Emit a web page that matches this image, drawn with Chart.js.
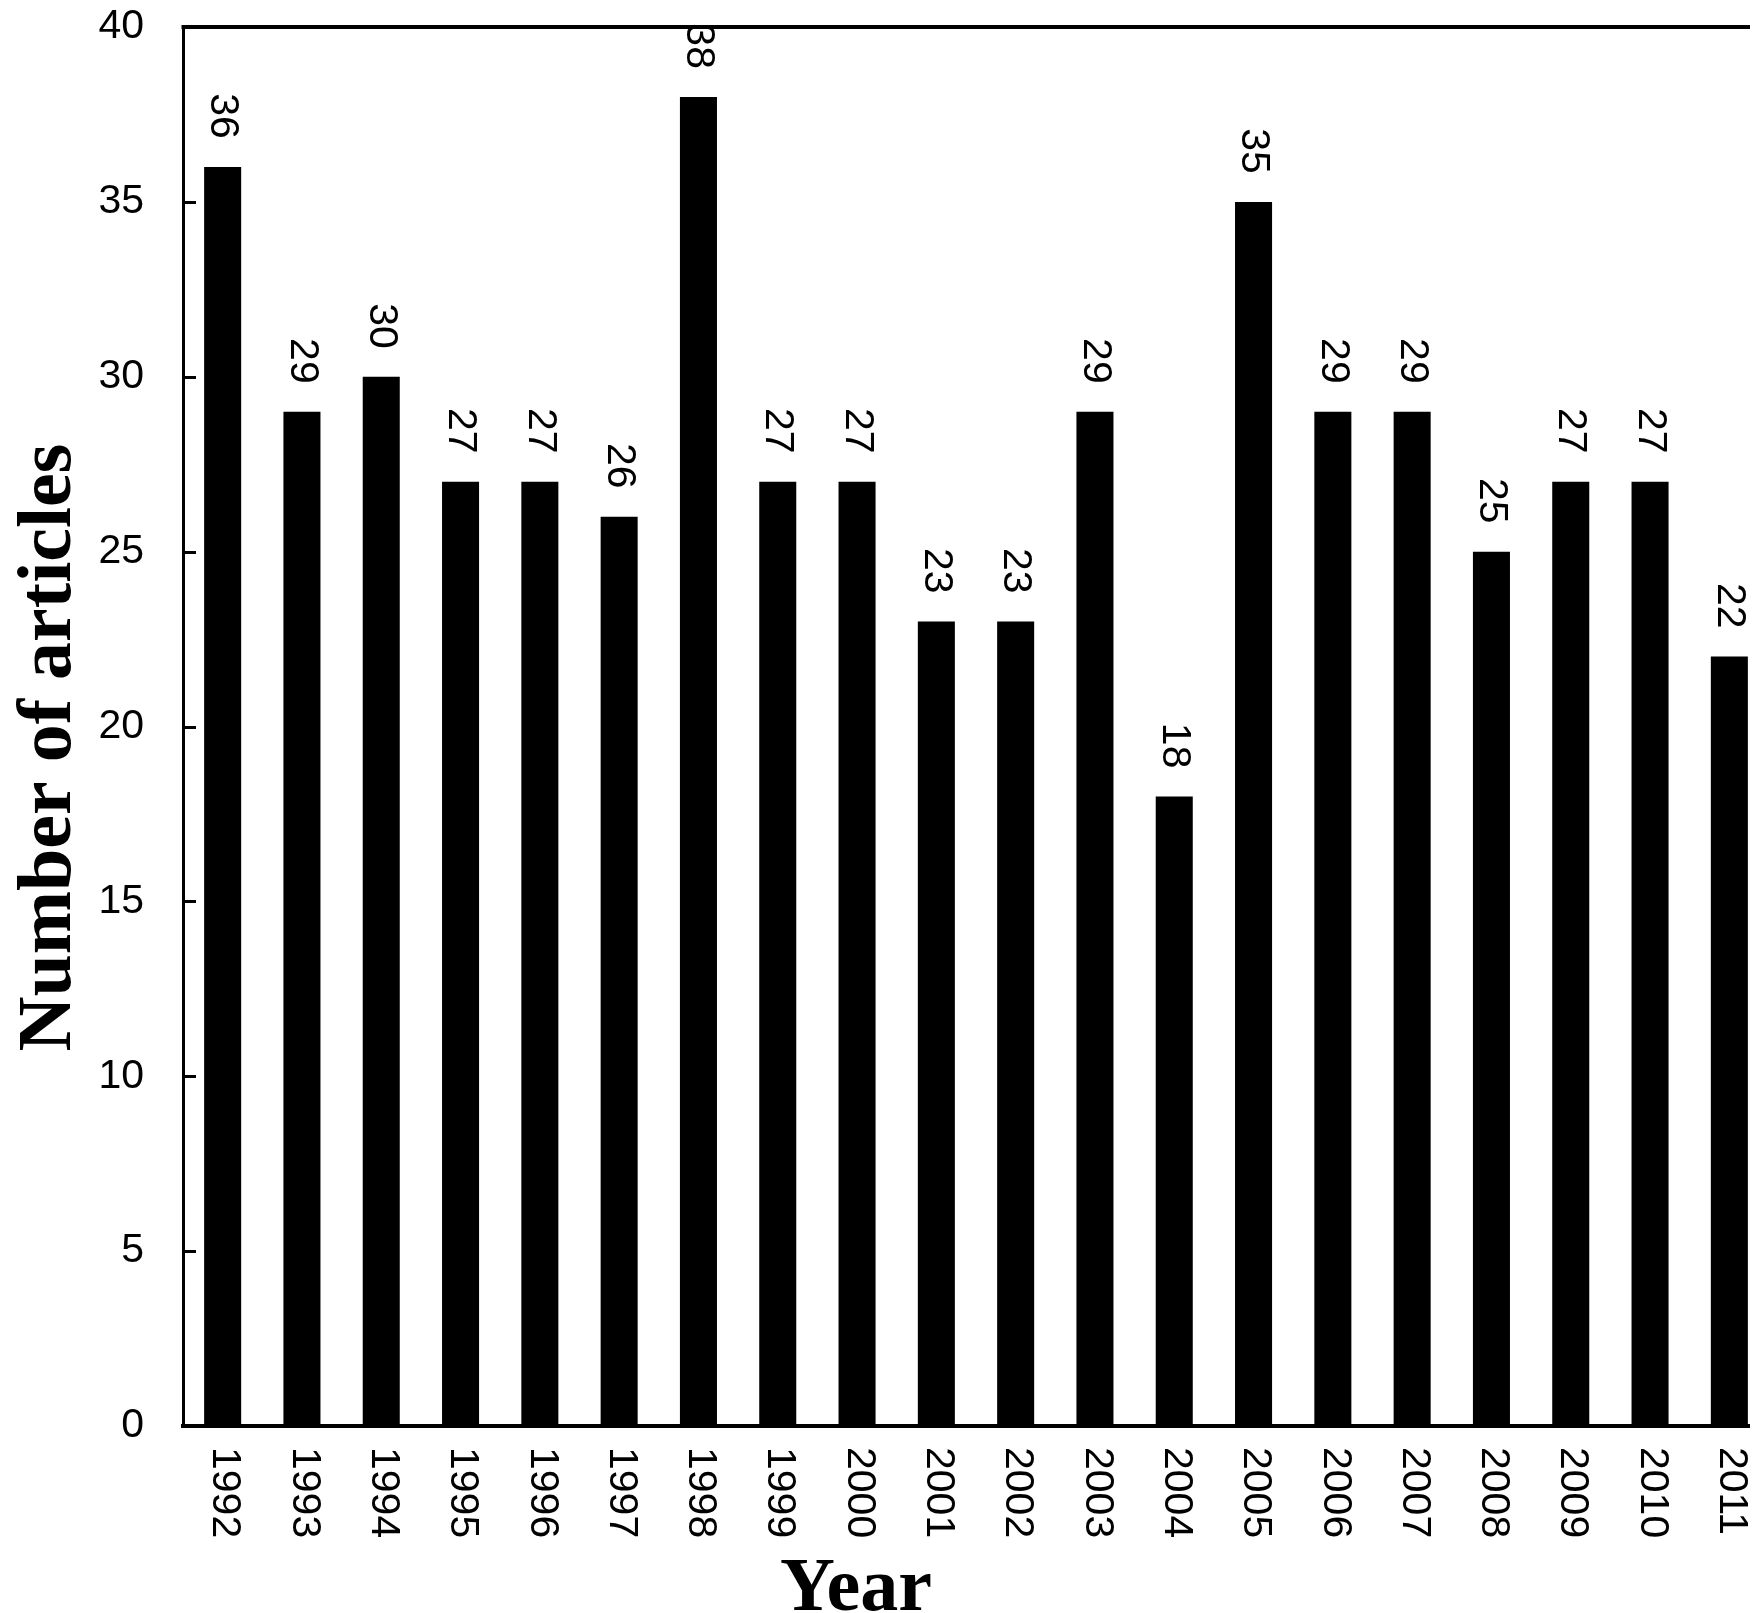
<!DOCTYPE html>
<html>
<head>
<meta charset="utf-8">
<script src="https://cdn.jsdelivr.net/npm/chart.js@4.4.1/dist/chart.umd.min.js"></script>
<style>
  body { margin: 0; background: #fff; }
  #wrap { width: 1750px; height: 1613px; overflow: hidden; }
  #chartArticles { display: block; }
</style>
</head>
<body>
<div id="wrap"><canvas id="chartArticles" width="1769" height="1613"></canvas></div>
<script>
const years = ['1992', '1993', '1994', '1995', '1996', '1997', '1998', '1999', '2000', '2001',
               '2002', '2003', '2004', '2005', '2006', '2007', '2008', '2009', '2010', '2011'];
const articles = [36, 29, 30, 27, 27, 26, 38, 27, 27, 23, 23, 29, 18, 35, 29, 29, 25, 27, 27, 22];
const yTickValues = [5, 10, 15, 20, 25, 30, 35];
const xTitle = 'Year';
const yTitle = 'Number of articles';

const numberFont = '41px "Liberation Sans", Arial, sans-serif';
const titleFont = 'bold 76px "Liberation Serif", "Times New Roman", serif';

// rotated labels, inward ticks, top frame line and axis titles
const extras = {
    id: 'extras',
    afterDraw(chart) {
        const ctx = chart.ctx;
        const area = chart.chartArea;
        const xs = chart.scales.x;
        const ys = chart.scales.y;
        ctx.save();
        ctx.strokeStyle = '#000';
        ctx.lineWidth = 4;
        ctx.beginPath();
        ctx.moveTo(area.left - 1.5, area.top);
        ctx.lineTo(area.right, area.top);
        ctx.stroke();

        ctx.lineWidth = 3;
        yTickValues.forEach(v => {
            const py = Math.round(ys.getPixelForValue(v)) + 0.5;
            ctx.beginPath();
            ctx.moveTo(area.left, py);
            ctx.lineTo(area.left + 13, py);
            ctx.stroke();
        });

        ctx.fillStyle = '#000';
        ctx.font = numberFont;
        ctx.textBaseline = 'middle';
        years.forEach((yr, i) => {
            ctx.save();
            ctx.translate(xs.getPixelForValue(i) + 2, area.bottom + 21);
            ctx.rotate(Math.PI / 2);
            ctx.textAlign = 'left';
            ctx.fillText(yr, 0, 0);
            ctx.restore();
        });

        chart.getDatasetMeta(0).data.forEach((bar, i) => {
            ctx.save();
            ctx.translate(bar.x, bar.y - 28);
            ctx.rotate(Math.PI / 2);
            ctx.textAlign = 'right';
            ctx.fillText(String(articles[i]), 0, 0);
            ctx.restore();
        });

        ctx.font = titleFont;
        ctx.textBaseline = 'alphabetic';
        ctx.textAlign = 'center';
        ctx.fillText(xTitle, area.left + 673, 1610);

        ctx.save();
        ctx.translate(70, (area.top + area.bottom) / 2 + 21);
        ctx.rotate(-Math.PI / 2);
        ctx.fillText(yTitle, 0, 0);
        ctx.restore();
        ctx.restore();
    }
};

const data = {
    labels: years,
    datasets: [{
        label: 'Number of articles',
        backgroundColor: '#000',
        borderWidth: 0,
        data: articles,
        barPercentage: 0.467,
        categoryPercentage: 1
    }]
};

const config = {
    type: 'bar',
    data: data,
    options: {
        responsive: false,
        animation: false,
        layout: { padding: { top: 27, left: 0, right: 0, bottom: 0 } },
        plugins: {
            legend: { display: false },
            tooltip: { enabled: false }
        },
        scales: {
            x: {
                grid: { display: false, drawTicks: false },
                border: { display: true, color: '#000', width: 4 },
                ticks: { display: false },
                afterFit: scale => {
                    scale.height = 187;
                    scale.paddingLeft = 0;
                    scale.paddingRight = 0;
                }
            },
            y: {
                min: 0,
                max: 40,
                grid: { display: false, drawTicks: false },
                border: { display: true, color: '#000', width: 3 },
                ticks: {
                    stepSize: 5,
                    padding: 39,
                    color: '#000',
                    font: { family: '"Liberation Sans", Arial, sans-serif', size: 41 }
                },
                afterFit: scale => {
                    scale.width = 183;
                    scale.paddingTop = 0;
                    scale.paddingBottom = 0;
                }
            }
        }
    },
    plugins: [extras]
};

new Chart(
    document.getElementById('chartArticles'),
    config
);
</script>
</body>
</html>
